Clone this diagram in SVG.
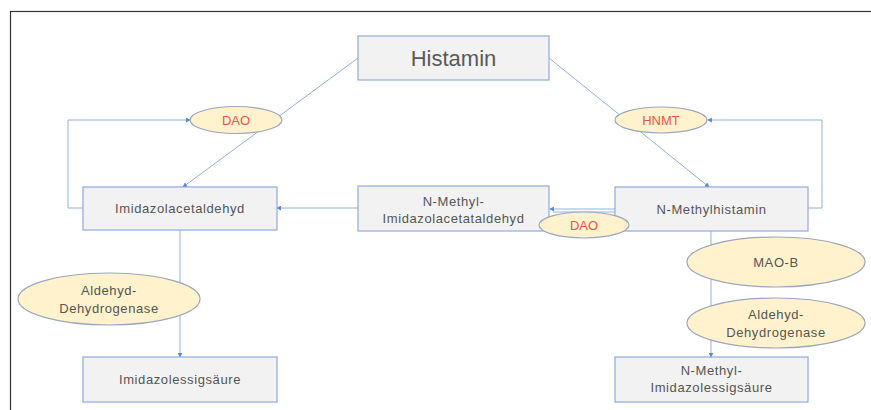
<svg xmlns="http://www.w3.org/2000/svg" width="871" height="410" viewBox="0 0 871 410">
<defs>
<marker id="arr" viewBox="0 0 6 6" refX="5" refY="3" markerWidth="5" markerHeight="5" orient="auto-start-reverse" markerUnits="userSpaceOnUse">
<path d="M0,0 L6,3 L0,6 z" fill="#5b8bd0"/>
</marker>
<style>
.box{fill:#f2f2f2;stroke:#8faadc;stroke-width:1.2}
.enz{fill:#fff2cc;stroke:#9aa6bc;stroke-width:1.2}
.con{fill:none;stroke:#8fb0e0;stroke-width:1}
.t{font-family:"Liberation Sans",Arial,sans-serif;fill:#555;text-anchor:middle;font-size:13px;letter-spacing:0.6px}
.red{font-family:"Liberation Sans",Arial,sans-serif;fill:#e8554e;text-anchor:middle;font-size:13px}
.big{font-family:"Liberation Sans",Arial,sans-serif;fill:#595959;text-anchor:middle;font-size:22px}
</style>
</defs>
<rect x="10.5" y="11.5" width="880" height="420" fill="#fff" stroke="#333" stroke-width="1.2"/>
<g id="connectors">
<path class="con" d="M358,58 L183,187" marker-end="url(#arr)"/>
<path class="con" d="M83,208 L68,208 L68,120 L190,120" marker-end="url(#arr)"/>
<path class="con" d="M549,58 L709,187" marker-end="url(#arr)"/>
<path class="con" d="M808,208 L822,208 L822,120 L708,120" marker-end="url(#arr)"/>
<path class="con" d="M615,209 L550,209" marker-end="url(#arr)"/>
<path class="con" d="M615,212 L553,212"/>
<path class="con" d="M358,208 L277,208" marker-end="url(#arr)"/>
<path class="con" d="M180,230 L180,357" marker-end="url(#arr)"/>
<path class="con" d="M711,231 L711,357" marker-end="url(#arr)"/>
</g>
<g id="histamin"><rect class="box" x="358" y="36" width="191" height="44"/><text class="big" x="453.5" y="66">Histamin</text></g>
<g id="dao1"><ellipse class="enz" cx="236" cy="120" rx="46" ry="13.5"/><text class="red" x="236" y="124.5">DAO</text></g>
<g id="hnmt"><ellipse class="enz" cx="661" cy="120" rx="46" ry="13"/><text class="red" x="661" y="124.5">HNMT</text></g>
<g id="imidazolacetaldehyd"><rect class="box" x="83" y="187" width="194" height="43"/><text class="t" x="180" y="213">Imidazolacetaldehyd</text></g>
<g id="nmia"><rect class="box" x="358" y="186" width="191" height="45"/><text class="t" x="453.5" y="206">N-Methyl-</text><text class="t" x="453.5" y="223">Imidazolacetataldehyd</text></g>
<g id="nmh"><rect class="box" x="615" y="187" width="193" height="44"/><text class="t" x="711.5" y="214">N-Methylhistamin</text></g>
<g id="dao2"><ellipse class="enz" cx="584" cy="225" rx="45" ry="13"/><text class="red" x="584" y="229.5">DAO</text></g>
<g id="maob"><ellipse class="enz" cx="776" cy="262" rx="89" ry="25"/><text class="t" x="776" y="267">MAO-B</text></g>
<g id="aldh2"><ellipse class="enz" cx="776" cy="323" rx="89" ry="25"/><text class="t" x="776" y="319">Aldehyd-</text><text class="t" x="776" y="337">Dehydrogenase</text></g>
<g id="aldh1"><ellipse class="enz" cx="109" cy="299" rx="91" ry="26"/><text class="t" x="109" y="295">Aldehyd-</text><text class="t" x="109" y="313">Dehydrogenase</text></g>
<g id="imidazolessigsaeure"><rect class="box" x="83" y="357" width="194" height="45"/><text class="t" x="180" y="384">Imidazolessigsäure</text></g>
<g id="nmies"><rect class="box" x="615" y="357" width="193" height="45"/><text class="t" x="711.5" y="375">N-Methyl-</text><text class="t" x="711.5" y="392">Imidazolessigsäure</text></g>
</svg>
